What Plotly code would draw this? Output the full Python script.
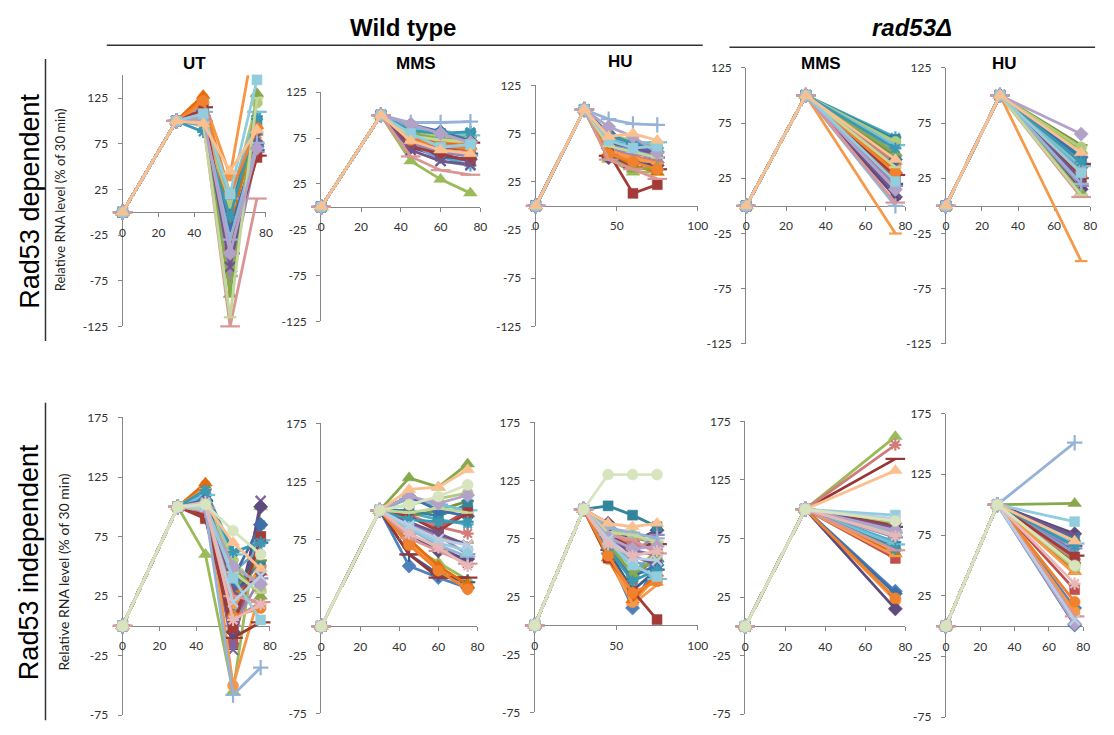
import plotly.graph_objects as go

W, H = 1114, 735

# ---------------------------------------------------------------- data
TIMES_WT = [0, 30, 45, 60, 75]
TIMES_RAD = [0, 30, 75]
START = [0, 100]          # every gene: 0 at 0 min, 100 % at 30 min

X_TICKS_80 = [0, 20, 40, 60, 80]
X_TICKS_100 = [0, 50, 100]
Y_TICKS_TOP = [-125, -75, -25, 25, 75, 125]
Y_TICKS_BOT = [-75, -25, 25, 75, 125, 175]

# Rad53 dependent genes (30), wild type UT – values at 45, 60, 75 min
dep_ut_45 = [105, 110, 100, 108, 112, 125, 100, 115, 105, 102, 110, 128, 95, 118, 100,
             105, 110, 120, 98, 112, 103, 107, 88, 122, 100, 100, 98, 104, 108, 97]
dep_ut_60 = [-40, -20, -60, -50, -10, 40, -30, -45, 0, -65, 5, -15, -55, -25, 10,
             -70, 15, -35, -20, -40, -90, -60, -5, 20, -30, -125, -115, -45, 20, 45]
dep_ut_75 = [75, 65, 80, 70, 105, 205, 68, 62, 85, 72, 100, 95, 90, 78, 120,
             66, 110, 88, 74, 60, 130, 82, 102, 92, 76, 15, 125, 70, 145, 90]

# Rad53 dependent, wild type MMS
dep_mms_45 = [70, 75, 50, 68, 80, 78, 72, 85, 82, 65, 88, 76, 70, 74, 84,
              68, 86, 79, 90, 66, 80, 62, 83, 73, 92, 55, 77, 90, 80, 72]
dep_mms_60 = [60, 65, 30, 55, 55, 70, 62, 75, 78, 55, 80, 70, 50, 68, 76,
              60, 82, 72, 82, 58, 74, 50, 80, 67, 92, 40, 73, 80, 65, 62]
dep_mms_75 = [55, 62, 15, 50, 45, 68, 58, 70, 76, 52, 80, 66, 45, 64, 74,
              56, 78, 70, 72, 50, 72, 46, 82, 63, 93, 35, 71, 70, 68, 58]

# Rad53 dependent, wild type HU
dep_hu_45 = [60, 55, 48, 62, 70, 58, 65, 52, 68, 50, 72, 56, 66, 63, 74,
             60, 70, 58, 75, 55, 50, 66, 72, 54, 90, 48, 62, 82, 68, 72]
dep_hu_60 = [50, 45, 35, 50, 60, 48, 55, 40, 65, 45, 62, 42, 58, 52, 68,
             55, 65, 50, 64, 13, 38, 60, 66, 46, 85, 38, 56, 72, 60, 75]
dep_hu_75 = [45, 40, 35, 48, 55, 45, 50, 38, 60, 42, 58, 35, 52, 46, 62,
             50, 66, 44, 56, 22, 40, 54, 60, 38, 84, 28, 50, 55, 62, 68]

# Rad53 dependent, rad53 mutant – value at 75 min
dep_rad_mms_75 = [30, 25, 40, 10, 62, 35, 20, 28, 45, 8, 60, 32, 50, 38, 58,
                  18, 55, -25, 42, 22, 48, 12, 52, 30, 0, 3, 35, 15, 22, 42]
dep_rad_hu_75 = [35, 30, 50, 20, 45, 40, 25, 38, 55, 15, 42, 28, 32, 22, 53,
                 18, 36, -50, 44, 26, 12, 24, 40, 30, 20, 8, 10, 65, 30, 48]

# Rad53 independent genes (33), wild type UT
ind_ut_45 = [110, 92, 60, 100, 115, 118, 105, 95, 102, 98, 112, 120, 108, 96, 104, 100, 110,
             115, 106, 90, 100, 103, 114, 101, 97, 99, 98, 100, 102, 102, 100, 104, 102]
ind_ut_60 = [-5, -15, -55, -20, 10, -50, 20, -10, 30, -5, 35, 25, 45, 5, 55, 0, 60,
             15, 40, -2, 50, 30, 62, 8, -58, 25, 45, 50, 40, 70, 20, 5, 80]
ind_ut_75 = [85, 75, 100, 105, 85, 30, 70, 3, 55, 100, 50, 45, 65, 20, 30, 40, 72,
             50, 85, 75, 25, 40, 70, 15, -35, 20, 28, 35, 5, 48, 42, 18, 60]

# Rad53 independent, wild type MMS
ind_mms_45 = [52, 95, 70, 85, 98, 72, 62, 62, 95, 80, 100, 75, 90, 96, 105, 88, 110,
              82, 112, 95, 128, 90, 92, 70, 84, 76, 98, 112, 85, 118, 87, 80, 105]
ind_mms_60 = [42, 85, 55, 70, 92, 50, 45, 42, 100, 65, 95, 52, 78, 86, 110, 78, 105,
              75, 100, 82, 120, 80, 90, 48, 70, 65, 102, 106, 72, 120, 75, 68, 112]
ind_mms_75 = [33, 100, 40, 55, 88, 35, 38, 42, 108, 58, 105, 36, 70, 80, 115, 62, 100,
              72, 95, 98, 140, 70, 90, 32, 60, 54, 98, 113, 65, 135, 70, 52, 122]

# Rad53 independent, wild type HU
ind_hu_45 = [62, 75, 70, 85, 80, 57, 65, 78, 82, 88, 103, 58, 74, 80, 83, 76, 72,
             62, 68, 58, 70, 80, 66, 60, 84, 78, 80, 76, 72, 88, 74, 70, 130]
ind_hu_60 = [15, 40, 45, 65, 48, 20, 30, 68, 75, 72, 95, 22, 55, 70, 78, 62, 50,
             18, 42, 30, 44, 60, 38, 28, 80, 74, 78, 66, 52, 85, 58, 60, 130]
ind_hu_75 = [55, 60, 65, 60, 55, 42, 48, 70, 72, 82, 85, 45, 50, 65, 70, 78, 40,
             35, 52, 5, 58, 52, 48, 38, 75, 62, 72, 68, 42, 88, 56, 64, 130]

# Rad53 independent, rad53 mutant – value at 75 min
ind_rad_mms_75 = [30, 58, 162, 80, 72, 22, 85, 143, 78, 15, 68, 62, 82, 155, 88, 76, 70,
                  60, 28, 86, 90, 84, 66, 24, 80, 65, 78, 82, 95, 133, 92, 77, 90]
ind_rad_hu_75 = [15, 30, 10, 62, 70, 12, 66, 58, 52, 76, 72, 45, 60, 55, 48, 64, 68,
                 43, 1, 57, 101, 74, 66, 20, 151, 8, 50, 2, 86, 70, 5, 35, 50]

# ---------------------------------------------------------------- styles (Excel 2007 defaults)
COLORS = ['#4F81BD', '#C0504D', '#9BBB59', '#8064A2', '#4BACC6', '#F79646',
          '#376092', '#953735', '#77933C', '#604A7B', '#31859C', '#E46C0A',
          '#7BA0CD', '#D07C7A', '#B0CB7C', '#9D87B9', '#76C0D4', '#F59A4B',
          '#3F6FA8', '#A33C39', '#86A94C', '#6F568C', '#3C98B0', '#F0822E',
          '#95B3D7', '#D99694', '#C3D69B', '#B3A2C7', '#93CDDD', '#FAC090',
          '#B9CDE5', '#E6B9B8', '#D7E4BD']
MARKERS = ['diamond', 'square', 'triangle-up', 'x-thin-open', 'asterisk-open',
           'circle', 'cross-thin-open', 'line-ew-open', 'line-ew-open']
MSIZES = [11, 10, 12, 10, 10, 11, 11, 14, 9]

AXIS_COLOR = '#868686'
TICK_FONT = dict(family='Lato, Calibri, sans-serif', size=12, color='#333333')

# panel geometry in pixels: (x_left, x_right, y_bottom, y_top)
PANELS = [
    dict(px=(121, 266, 325, 68.7), xr=[0, 80], yr=[-125, 150], xt=X_TICKS_80, yt=Y_TICKS_TOP,
         vals=(dep_ut_45, dep_ut_60, dep_ut_75)),
    dict(px=(322, 483, 320, 86), xr=[0, 80], yr=[-125, 125], xt=X_TICKS_80, yt=Y_TICKS_TOP,
         vals=(dep_mms_45, dep_mms_60, dep_mms_75)),
    dict(px=(539, 703, 325, 79), xr=[0, 100], yr=[-125, 125], xt=X_TICKS_100, yt=Y_TICKS_TOP,
         vals=(dep_hu_45, dep_hu_60, dep_hu_75)),
    dict(px=(752, 913, 343, 61), xr=[0, 80], yr=[-125, 125], xt=X_TICKS_80, yt=Y_TICKS_TOP,
         vals=(dep_rad_mms_75,)),
    dict(px=(954, 1100, 343, 61), xr=[0, 80], yr=[-125, 125], xt=X_TICKS_80, yt=Y_TICKS_TOP,
         vals=(dep_rad_hu_75,)),
    dict(px=(121, 270, 722, 418), xr=[0, 80], yr=[-75, 175], xt=X_TICKS_80, yt=Y_TICKS_BOT,
         vals=(ind_ut_45, ind_ut_60, ind_ut_75)),
    dict(px=(322, 480, 720, 424), xr=[0, 80], yr=[-75, 175], xt=X_TICKS_80, yt=Y_TICKS_BOT,
         vals=(ind_mms_45, ind_mms_60, ind_mms_75)),
    dict(px=(538, 703, 719, 423), xr=[0, 100], yr=[-75, 175], xt=X_TICKS_100, yt=Y_TICKS_BOT,
         vals=(ind_hu_45, ind_hu_60, ind_hu_75)),
    dict(px=(751, 913, 721, 422), xr=[0, 80], yr=[-75, 175], xt=X_TICKS_80, yt=Y_TICKS_BOT,
         vals=(ind_rad_mms_75,)),
    dict(px=(954, 1093, 724, 414), xr=[0, 80], yr=[-75, 175], xt=X_TICKS_80, yt=Y_TICKS_BOT,
         vals=(ind_rad_hu_75,)),
]

fig = go.Figure()
layout_axes = {}

for i, p in enumerate(PANELS, start=1):
    xl, xr_, yb, yt_ = p['px']
    xname = 'x' if i == 1 else f'x{i}'
    yname = 'y' if i == 1 else f'y{i}'
    xkey = 'xaxis' if i == 1 else f'xaxis{i}'
    ykey = 'yaxis' if i == 1 else f'yaxis{i}'
    ymin, ymax = p['yr']
    # pixel of the value 0 on y axis -> where the x axis line sits
    y0px = yb - (0 - ymin) / (ymax - ymin) * (yb - yt_)

    layout_axes[xkey] = dict(
        domain=[xl / W, xr_ / W], range=p['xr'], anchor='free', position=1 - y0px / H,
        tickvals=p['xt'], ticktext=[str(v) for v in p['xt']],
        ticks='outside', ticklen=4, tickcolor=AXIS_COLOR, showline=True, linecolor=AXIS_COLOR,
        linewidth=1, showgrid=False, zeroline=False, tickfont=TICK_FONT,
        ticklabelstandoff=5, layer='below traces', fixedrange=True)
    layout_axes[ykey] = dict(
        domain=[1 - yb / H, 1 - yt_ / H], range=p['yr'], anchor=xname,
        tickvals=p['yt'], ticktext=[str(v) for v in p['yt']],
        ticks='outside', ticklen=4, tickcolor=AXIS_COLOR, showline=True, linecolor=AXIS_COLOR,
        linewidth=1, showgrid=False, zeroline=False, tickfont=TICK_FONT,
        ticklabelstandoff=7, layer='below traces', fixedrange=True)

    wt = len(p['vals']) == 3
    n = len(p['vals'][0])
    for k in range(n):
        ys = START + [arr[k] for arr in p['vals']]
        xs = TIMES_WT if wt else TIMES_RAD
        c = COLORS[k % len(COLORS)]
        sym = MARKERS[k % 9]
        inside = min(ys) >= ymin and max(ys) <= ymax
        fig.add_trace(go.Scatter(
            x=xs, y=ys, xaxis=xname, yaxis=yname, mode='lines+markers',
            line=dict(color=c, width=2.8),
            marker=dict(symbol=sym, size=MSIZES[k % 9], color=c,
                        line=dict(color=c, width=2.2 if 'open' in sym else 0.5)),
            cliponaxis=not inside,
            showlegend=False, hoverinfo='skip'))

fig.update_layout(**layout_axes)

# ---------------------------------------------------------------- texts
HEAD = 'Liberation Sans, Arial, sans-serif'
ann = []


def add_text(text, xpx, ypx, size, angle=0, family=HEAD, color='#000000'):
    ann.append(dict(text=text, x=xpx / W, y=1 - ypx / H, xref='paper', yref='paper',
                    xanchor='center', yanchor='middle', showarrow=False, textangle=angle,
                    font=dict(family=family, size=size, color=color)))


add_text('<b>Wild type</b>', 405, 20, 24)
add_text('<b><i>rad53Δ</i></b>', 920, 20, 24)
add_text('<b>UT</b>', 194, 57, 17)
add_text('<b>MMS</b>', 418, 57, 17)
add_text('<b>HU</b>', 625, 55, 17)
add_text('<b>MMS</b>', 828, 57, 17)
add_text('<b>HU</b>', 1013, 57, 17)
add_text('Rad53 dependent', 27, 197, 27, angle=-90)
add_text('Rad53 independent', 27, 566, 27, angle=-90)
add_text('Relative RNA level (% of 30 min)', 58, 196, 13, angle=-90,
         family='Lato, Calibri, sans-serif', color='#222222')
add_text('Relative RNA level (% of 30 min)', 61, 576, 14, angle=-90,
         family='Lato, Calibri, sans-serif', color='#222222')

shapes = []


def add_line(x0, y0, x1, y1, w=1.5, color='#333333'):
    shapes.append(dict(type='line', xref='paper', yref='paper', x0=x0 / W, y0=1 - y0 / H,
                       x1=x1 / W, y1=1 - y1 / H, line=dict(color=color, width=w)))


add_line(105, 38, 708, 38)
add_line(735, 40, 1105, 40)
add_line(43, 52, 43, 340)
add_line(43, 403, 43, 727)

fig.update_layout(
    width=W, height=H, autosize=False,
    margin=dict(l=0, r=0, t=0, b=0),
    paper_bgcolor='white', plot_bgcolor='rgba(0,0,0,0)',
    annotations=ann, shapes=shapes, showlegend=False)

fig.write_html('out.html', config={'displayModeBar': False},
               post_script="document.body.style.margin='0px';document.body.style.overflow='hidden';")
